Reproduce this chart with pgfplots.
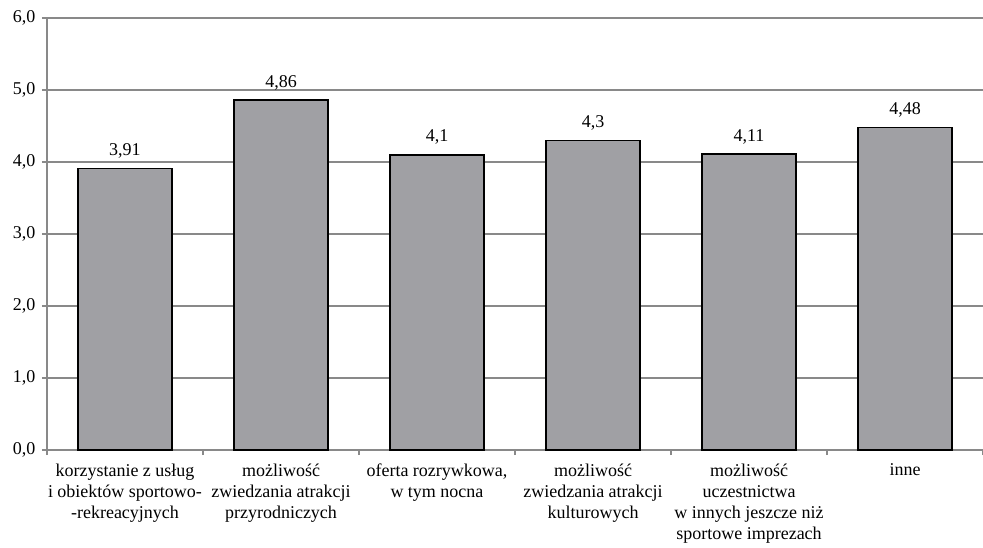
\documentclass[border=0pt]{standalone}
\usepackage{pgfplots}
\pgfplotsset{compat=1.18}
\usepackage{fontspec}
\setmainfont{Liberation Serif}
\definecolor{barfill}{RGB}{160,160,164}
\definecolor{gridc}{RGB}{137,137,137}
\begin{document}
\begin{tikzpicture}
\useasboundingbox (-47pt,-97pt) rectangle (936pt,450pt);
\begin{axis}[
  at={(0,0)}, anchor=south west,
  scale only axis, width=936pt, height=432pt,
  xmin=-0.5, xmax=5.5, ymin=0, ymax=6,
  axis x line*=bottom, axis y line*=left,
  x axis line style={gridc, line width=2pt},
  y axis line style={gridc, line width=1.3pt},
  ytick={0,1,...,6},
  ymajorgrids, grid style={gridc, line width=1.3pt},
  yticklabel style={xshift=-3pt, /pgf/number format/.cd, fixed, fixed zerofill, precision=1, use comma, assume math mode=true},
  ticklabel style={font=\fontsize{18}{21}\selectfont},
  xtick={0,...,5},
  xticklabels={{korzystanie z usług\\i obiektów sportowo-\\-rekreacyjnych},
    {możliwość\\zwiedzania atrakcji\\przyrodniczych},
    {oferta rozrywkowa,\\w tym nocna},
    {możliwość\\zwiedzania atrakcji\\kulturowych},
    {możliwość\\uczestnictwa\\w innych jeszcze niż\\sportowe imprezach},
    {inne}},
  xticklabel style={align=center, anchor=north, yshift=-5pt},
  minor xtick={-0.5,0.5,...,5.5},
  tick align=outside,
  major tick length=5pt, minor tick length=5pt,
  major x tick style={draw=none},
  minor x tick style={gridc, line width=1.3pt},
  y tick style={gridc, line width=1.3pt},
  clip=false,
]
\addplot[ybar, bar width=0.6, fill=barfill, draw=black, line width=1.5pt,
  nodes near coords, point meta=explicit symbolic,
  nodes near coords style={font=\fontsize{18}{21}\selectfont, anchor=south, yshift=6pt}]
  table[x=x, y=y, meta=lab] {
x y lab
0 3.91 3,91
1 4.86 4,86
2 4.10 4,1
3 4.30 4,3
4 4.11 4,11
5 4.48 4,48
};
\end{axis}
\end{tikzpicture}
\end{document}
